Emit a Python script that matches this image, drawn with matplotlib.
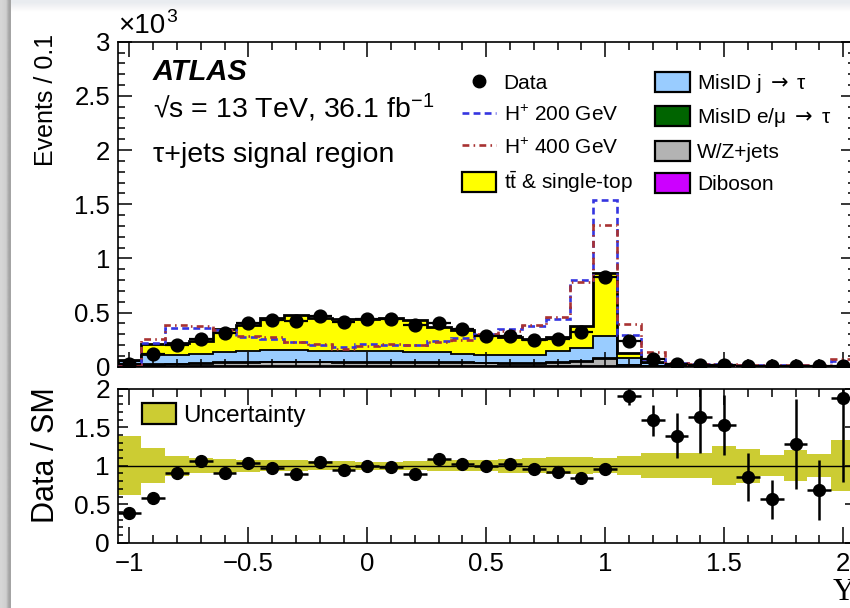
import numpy as np
import matplotlib
matplotlib.use("Agg")
import matplotlib.pyplot as plt
from matplotlib.ticker import MultipleLocator, FuncFormatter
from matplotlib.lines import Line2D
from matplotlib.patches import Patch
from matplotlib.colors import LinearSegmentedColormap

plt.rcParams['font.family'] = ['Liberation Sans', 'DejaVu Sans']
plt.rcParams['mathtext.fontset'] = 'custom'
plt.rcParams['mathtext.rm'] = 'Liberation Sans'
plt.rcParams['mathtext.it'] = 'Liberation Sans:italic'
plt.rcParams['mathtext.bf'] = 'Liberation Sans:bold'
plt.rcParams['mathtext.sf'] = 'DejaVu Sans'
plt.rcParams['axes.unicode_minus'] = True

# ---------------- data ----------------
bin_centers = [-1.0, -0.9, -0.8, -0.7, -0.6, -0.5, -0.4, -0.3, -0.2, -0.1, 0.0,
               0.1, 0.2, 0.3, 0.4, 0.5, 0.6, 0.7, 0.8, 0.9, 1.0,
               1.1, 1.2, 1.3, 1.4, 1.5, 1.6, 1.7, 1.8, 1.9, 2.0]
bin_width = 0.1

data_events = [25, 120, 196, 255, 310, 405, 430, 425, 469, 417, 440,
               440, 386, 402, 350, 288, 279, 242, 254, 318, 825,
               233, 70, 25, 14, 16, 8, 5, 5, 3, 3]

diboson = [1, 2, 2, 2, 2, 3, 3, 3, 3, 3, 3,
           3, 3, 3, 2, 2, 2, 2, 2, 3, 5,
           1, 0.5, 0.2, 0.1, 0.1, 0.1, 0.1, 0.05, 0.05, 0.05]
wz_jets = [5, 16, 20, 24, 30, 32, 36, 36, 36, 34, 34,
           34, 32, 32, 30, 28, 26, 26, 30, 38, 62,
           12, 5, 2, 1, 1, 1, 1, 0.5, 0.5, 0.3]
misid_lep = [3, 6, 6, 7, 8, 9, 9, 9, 9, 9, 9,
             9, 9, 8, 8, 8, 7, 7, 8, 10, 16,
             4, 1.5, 0.6, 0.3, 0.3, 0.3, 0.2, 0.1, 0.1, 0.05]
misid_jet = [46, 86, 82, 84, 92, 97, 108, 108, 93, 95, 95,
             95, 88, 89, 77, 72, 75, 75, 101, 121, 196,
             63, 23, 9.2, 4.6, 5.6, 4.6, 4.7, 1.85, 2.35, 0.6]
ttbar_top = [10, 98, 106, 122, 212, 248, 289, 323, 307, 301, 299,
             308, 301, 239, 225, 179, 164, 144, 137, 205, 583,
             42, 14, 6, 2.6, 3.5, 3.4, 2.9, 1.4, 1.4, 0.6]

hplus_200 = [25, 220, 360, 360, 337, 278, 255, 227, 198, 184, 205,
             204, 202, 237, 264, 300, 345, 375, 440, 800, 1537,
             294, 70, 34, 25, 22, 18, 15, 12, 10, 50]
hplus_400 = [25, 258, 383, 375, 337, 288, 270, 227, 205, 168, 190,
             205, 202, 230, 249, 305, 330, 386, 463, 785, 1307,
             395, 132, 34, 28, 24, 20, 18, 15, 15, 75]

ratio_err = [0.07, 0.05, 0.06, 0.06, 0.05, 0.05, 0.05, 0.05, 0.05, 0.05, 0.05,
             0.05, 0.05, 0.05, 0.05, 0.06, 0.06, 0.06, 0.06, 0.05, 0.04,
             0.12, 0.2, 0.29, 0.46, 0.39, 0.31, 0.25, 0.58, 0.39, 1.09]
syst_unc = [0.38, 0.23, 0.13, 0.10, 0.09, 0.08, 0.07, 0.07, 0.06, 0.06, 0.05,
            0.05, 0.06, 0.07, 0.07, 0.07, 0.09, 0.10, 0.11, 0.11, 0.10,
            0.12, 0.16, 0.16, 0.16, 0.25, 0.22, 0.14, 0.20, 0.15, 0.33]

# ---------------- styling ----------------
c_tt = '#ffff00'
c_j = '#99ccff'
c_lep = '#006400'
c_wz = '#b3b3b3'
c_db = '#cc00ff'
c_200 = '#3535e0'
c_400 = '#a83232'
c_band = '#cccc33'
ls_200 = (0, (2.6, 1.6))
ls_400 = (0, (2.6, 1.6, 0.6, 1.6))

W, H = 850, 608
def fx(px):
    return px / W
def fy(py):
    return 1 - py / H

fig = plt.figure(figsize=(8.5, 6.08), dpi=100)
fig.patch.set_facecolor('white')

# screenshot frame (left shadow strip, pale top strip)
bg = fig.add_axes([0, 0, 1, 1], zorder=-10)
bg.set_xlim(0, W)
bg.set_ylim(H, 0)
bg.axis('off')
cm_left = LinearSegmentedColormap.from_list('l', ['#d6d6d6', '#cfcfcf', '#a4a4a4'])
bg.imshow(np.array([[0.0, 0.4, 1.0]]), extent=(0, 11, H, 0), cmap=cm_left,
          aspect='auto', interpolation='bilinear')
cm_top = LinearSegmentedColormap.from_list('t', ['#e9ecf0', '#f4f4f6', '#ffffff'])
bg.imshow(np.array([[0.0], [0.5], [1.0]]), extent=(11, W, 14, 0), cmap=cm_top,
          aspect='auto', interpolation='bilinear')

ax = fig.add_axes([fx(117.5), fy(366.7), fx(855) - fx(117.5), (366.7 - 41.7) / H])
rax = fig.add_axes([fx(117.5), fy(542.7), fx(855) - fx(117.5), (542.7 - 388.7) / H])

centers = np.array(bin_centers)
edges = np.append(centers - bin_width / 2, centers[-1] + bin_width / 2)
data = np.array(data_events, dtype=float)

layers = [np.array(diboson), np.array(wz_jets), np.array(misid_lep),
          np.array(misid_jet), np.array(ttbar_top)]
colors = [c_db, c_wz, c_lep, c_j, c_tt]

base = np.zeros(len(centers))
for vals, col in zip(layers, colors):
    top = base + vals
    ax.stairs(top, edges, baseline=base, fill=True, color=col, lw=0, zorder=1)
    base = top
total = base.copy()

base = np.zeros(len(centers))
for i, vals in enumerate(layers):
    base = base + vals
    ax.stairs(base, edges, baseline=0, color='k',
              lw=2.0 if i == len(layers) - 1 else 1.3, zorder=2)

ax.stairs(np.array(hplus_200, float), edges, baseline=None, color=c_200, lw=1.9,
          linestyle=ls_200, zorder=3)
ax.stairs(np.array(hplus_400, float), edges, baseline=None, color=c_400, lw=1.9,
          linestyle=ls_400, zorder=3)

ratio = data / total
r_err = np.array(ratio_err)
ax.errorbar(centers, data, xerr=bin_width / 2, yerr=r_err * total, fmt='o',
            color='k', ms=9.2, elinewidth=1.6, capsize=0, zorder=5)

# ratio panel
unc = np.array(syst_unc)
rax.stairs(1 + unc, edges, baseline=1 - unc, fill=True, color=c_band, lw=0, zorder=1)
rax.axhline(1.0, color='k', lw=1.0, zorder=2)
rax.errorbar(centers, ratio, xerr=bin_width / 2, yerr=r_err, fmt='o', color='k',
             ms=8.5, elinewidth=1.8, capsize=0, zorder=5)

# axes / ticks
fmt_x = FuncFormatter(lambda v, p: ('%g' % round(v, 3)).replace('-', '\u2212'))
for a in (ax, rax):
    a.set_xlim(-1.05, 2.05)
    a.xaxis.set_major_locator(MultipleLocator(0.5))
    a.xaxis.set_minor_locator(MultipleLocator(0.1))
    a.tick_params(which='both', direction='in', top=True, right=True, width=1.1)
    for s in a.spines.values():
        s.set_linewidth(1.2)

ax.set_ylim(0, 3000)
ax.yaxis.set_major_locator(MultipleLocator(500))
ax.yaxis.set_minor_locator(MultipleLocator(100))
ax.yaxis.set_major_formatter(FuncFormatter(lambda v, p: '%g' % (v / 1000)))
ax.tick_params(axis='x', which='major', length=11)
ax.tick_params(axis='x', which='minor', length=5.5)
ax.tick_params(axis='y', which='major', length=10, labelsize=18.5, pad=5.4)
ax.tick_params(axis='y', which='minor', length=5)
ax.tick_params(axis='x', labelbottom=False)

rax.set_ylim(0, 2)
rax.yaxis.set_major_locator(MultipleLocator(0.5))
rax.yaxis.set_minor_locator(MultipleLocator(0.1))
rax.yaxis.set_major_formatter(FuncFormatter(lambda v, p: '%g' % round(v, 3)))
rax.xaxis.set_major_formatter(fmt_x)
rax.tick_params(axis='x', which='major', length=11.5, labelsize=18.5, pad=6.8)
rax.tick_params(axis='x', which='minor', length=5.5)
rax.tick_params(axis='y', which='major', length=7.5, labelsize=19, pad=5.4)
rax.tick_params(axis='y', which='minor', length=3.8)

# axis titles
ax.set_ylabel('Events / 0.1', fontsize=18)
ax.yaxis.label.set(rotation_mode='default', ha='center', va='top')
ax.yaxis.set_label_coords(fx(46), fy(34), transform=fig.transFigure)
rax.set_ylabel('Data / SM', fontsize=22)
rax.yaxis.label.set(rotation_mode='default', ha='center', va='top')
rax.yaxis.set_label_coords(fx(46.5), fy(387), transform=fig.transFigure)
rax.set_xlabel('\u03a5', fontsize=22, family=['Liberation Serif', 'DejaVu Serif'])
rax.xaxis.label.set(ha='left', va='center')
rax.xaxis.set_label_coords(fx(833), fy(593), transform=fig.transFigure)

# exponent label
fig.text(fx(118), fy(26), '\u00d710', fontsize=20, ha='left', va='center')
fig.text(fx(166.5), fy(17), '3', fontsize=14, ha='left', va='center')

# ATLAS labels
fig.text(fx(153), fy(80), 'ATLAS', fontsize=21, weight='bold', style='italic',
         ha='left', va='baseline')
fig.text(fx(153), fy(118), '\u221as = 13 TeV, 36.1 fb$^{-1}$', fontsize=20.5,
         ha='left', va='baseline')
fig.text(fx(153), fy(162), '\u03c4+jets signal region', fontsize=20.5,
         ha='left', va='baseline')

# legends
h_data = Line2D([], [], marker='o', ls='none', color='k', ms=9)
h_200 = Line2D([], [], color=c_200, lw=1.9, ls=ls_200)
h_400 = Line2D([], [], color=c_400, lw=1.9, ls=ls_400)
def box(col):
    return Patch(facecolor=col, edgecolor='k', lw=1.6)
handles = [h_data, h_200, h_400, box(c_tt), box(c_j), box(c_lep), box(c_wz), box(c_db)]
labels = ['Data', 'H$^{+}$ 200 GeV', 'H$^{+}$ 400 GeV', r't$\bar{\mathrm{t}}$ & single-top',
          'MisID j $\\mathsf{\\rightarrow}$ \u03c4', 'MisID e/\u03bc $\\mathsf{\\rightarrow}$ \u03c4',
          'W/Z+jets', 'Diboson']
leg = ax.legend(handles, labels, ncol=2, loc='upper left',
                bbox_to_anchor=(fx(462), fy(72)), bbox_transform=fig.transFigure,
                frameon=False, fontsize=15, handlelength=1.65, handleheight=1.1,
                handletextpad=0.35, labelspacing=0.54, columnspacing=1.1,
                borderpad=0, borderaxespad=0)
leg.set_zorder(10)

rleg = rax.legend([Patch(facecolor=c_band, edgecolor='k', lw=1.6)], ['Uncertainty'],
                  loc='upper left', bbox_to_anchor=(fx(142), fy(403)),
                  bbox_transform=fig.transFigure, frameon=False, fontsize=17.5,
                  handlelength=1.4, handleheight=0.95, handletextpad=0.3,
                  borderpad=0, borderaxespad=0)
rleg.set_zorder(10)

fig.savefig('out.png', dpi=100)
